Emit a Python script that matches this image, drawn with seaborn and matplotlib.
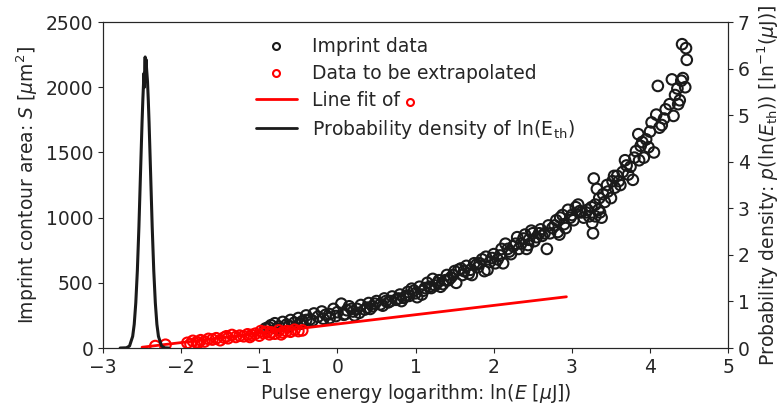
import numpy as np
import pandas as pd
import matplotlib
matplotlib.use("Agg")
import matplotlib.pyplot as plt
from matplotlib.lines import Line2D
from matplotlib.transforms import IdentityTransform
import seaborn as sns

# imprint data (black circles)
imprint_x = [-0.92, -0.85, -0.8, -0.75, -0.7, -0.65, -0.6, -0.55, -0.5, -0.45, -0.4, -0.35, -0.3, -0.25,
             -0.2, -0.15, -0.1, -0.05, 0.0, 0.05, 0.1, 0.12, 0.15, 0.2, 0.25, 0.3, 0.35, 0.4, 0.45, 0.5,
             0.55, 0.6, 0.65, 0.7, 0.75, 0.8, 0.85, 0.9, 0.92, 0.95, 1.0, 1.05, 1.1, 1.15, 1.2, 1.22, 1.25,
             1.3, 1.35, 1.4, 1.45, 1.5, 1.52, 1.55, 1.6, 1.65, 1.7, 1.75, 1.8, 1.85, 1.88, 1.9, 1.95, 2.0,
             2.05, 2.1, 2.12, 2.15, 2.2, 2.25, 2.3, 2.35, 2.4, 2.42, 2.45, 2.5, 2.55, 2.6, 2.65, 2.68, 2.7,
             2.75, 2.8, 2.82, 2.85, 2.9, 2.95, 3.0, 3.05, 3.1, 3.15, 3.2, 3.25, 3.27, 3.28, 3.3, 3.32, 3.35,
             3.38, 3.4, 3.45, 3.5, 3.52, 3.55, 3.6, 3.65, 3.68, 3.7, 3.75, 3.8, 3.82, 3.85, 3.88, 3.9, 3.92,
             3.95, 4.0, 4.02, 4.05, 4.08, 4.1, 4.15, 4.2, 4.25, 4.3, 4.32, 4.35, 4.38, 4.4, 4.42, 4.41, 4.46,
             4.47, 4.45,
             -0.88, -0.78, -0.62, -0.48, -0.32, -0.18, -0.02, 0.08, 0.18, 0.28, 0.38, 0.48, 0.58, 0.68,
             0.78, 0.88, 0.98, 1.08, 1.18, 1.28, 1.38, 1.48, 1.58, 1.68, 1.78, 1.98, 2.08, 2.18, 2.28, 2.38,
             2.48, 2.58, 2.78, 2.88, 2.98, 3.08, 3.18, 3.34, 3.42, 3.58, 3.72, 3.78, 4.12, 4.28,
             -0.4, -0.1, 0.22, 0.42, 0.62, 0.82, 1.02, 1.12, 1.32, 1.42, 1.62, 1.72, 1.82, 1.92, 2.02,
             2.22, 2.32, 2.44, 2.52, 2.62, 2.72, 2.84, 2.92, 3.02, 3.12, 3.22, 3.26, 3.3, 3.36, 3.46,
             3.54, 3.62, 3.86, 3.98, 4.18, 4.36]
imprint_y = [150, 175, 190, 165, 200, 180, 215, 195, 230, 205, 250, 220, 265, 240,
             280, 255, 230, 300, 275, 340, 260, 290, 320, 280, 300, 330, 295, 345, 320, 360,
             335, 380, 350, 395, 370, 410, 385, 430, 400, 455, 420, 470, 440, 500, 460, 530, 480,
             520, 490, 560, 540, 590, 500, 600, 560, 630, 600, 650, 620, 680, 590, 700, 660, 720,
             680, 760, 650, 800, 740, 780, 850, 800, 870, 760, 830, 880, 850, 910, 880, 760, 940,
             920, 980, 890, 1000, 950, 1060, 1020, 1080, 1050, 1000, 1060, 1080, 880, 1300, 1010, 1220, 1150,
             1000, 1180, 1250, 1150, 1280, 1230, 1280, 1350, 1440, 1400, 1390, 1460, 1510, 1640, 1550, 1580, 1460,
             1600, 1660, 1730, 1500, 1790, 2010, 1710, 1830, 1870, 1780, 1940, 1990, 1900, 2050, 2070, 2330, 2300,
             2210, 2000,
             160, 150, 170, 185, 210, 225, 245, 255, 300, 270, 310, 340, 325, 360,
             380, 400, 440, 410, 470, 500, 520, 560, 610, 570, 640, 690, 710, 760, 800, 840,
             900, 880, 940, 1020, 1000, 1100, 1040, 1060, 1120, 1320, 1330, 1290, 1690, 2060,
             215, 260, 250, 300, 360, 360, 390, 460, 470, 520, 590, 560, 650, 600, 650,
             720, 760, 790, 820, 860, 880, 870, 920, 980, 1040, 1010, 960, 1100, 1040, 1200,
             1320, 1250, 1440, 1540, 1760, 1870]

# data to be extrapolated (red circles)
extrap_x = [-2.33, -2.2, -1.92, -1.88, -1.85, -1.8, -1.78, -1.75, -1.7, -1.65, -1.6, -1.55, -1.5, -1.45,
            -1.42, -1.4, -1.35, -1.3, -1.25, -1.2, -1.15, -1.12, -1.1, -1.05, -1.0, -0.98, -0.95, -0.9,
            -0.87, -0.85, -0.8, -0.75, -0.72, -0.7, -0.65, -0.6, -0.55, -0.5, -0.45]
extrap_y = [15, 25, 40, 30, 55, 45, 40, 60, 50, 70, 65, 75, 60, 80,
            90, 75, 100, 85, 95, 90, 105, 85, 100, 110, 95, 130, 115, 125,
            105, 120, 110, 135, 105, 120, 130, 125, 140, 130, 135]

# line fit of the red points
fit_x = [-2.5, 2.93]
fit_y = [6, 393]

# probability density of ln(E_th), right axis
dens_x = [-2.78, -2.7, -2.66, -2.62, -2.6, -2.58, -2.56, -2.54, -2.52, -2.5, -2.49, -2.48, -2.475, -2.47,
          -2.465, -2.46, -2.455, -2.45, -2.44, -2.43, -2.42, -2.41, -2.39, -2.37, -2.35, -2.33, -2.31,
          -2.29, -2.25, -2.21, -2.16]
dens_y = [0.0, 0.005, 0.043, 0.25, 0.51, 0.97, 1.66, 2.6, 3.73, 4.84, 5.32, 5.72, 5.9, 5.6,
          6.0, 6.25, 5.9, 6.2, 5.95, 5.72, 5.32, 4.84, 3.73, 2.6, 1.66, 0.97, 0.51,
          0.25, 0.043, 0.005, 0.0]

sns.set_style("ticks")
plt.rcParams["font.family"] = ["DejaVu Sans"]
plt.rcParams["mathtext.fontset"] = "dejavusans"

txt = "#262626"
fs = 13.5

fig, ax = plt.subplots(figsize=(7.83, 4.08), dpi=100)
fig.subplots_adjust(left=0.1315, right=0.930, top=0.946, bottom=0.147)

df_imp = pd.DataFrame({"x": imprint_x, "y": imprint_y})
df_ext = pd.DataFrame({"x": extrap_x, "y": extrap_y})

sns.scatterplot(data=df_imp, x="x", y="y", ax=ax, marker="o", s=58,
                facecolors="none", edgecolor="#1a1a1a", linewidth=1.5, zorder=2)
sns.scatterplot(data=df_ext, x="x", y="y", ax=ax, marker="o", s=58,
                facecolors="none", edgecolor="red", linewidth=1.5, zorder=3)
sns.lineplot(x=fit_x, y=fit_y, ax=ax, color="red", linewidth=2, zorder=4)

ax.set_xlim(-3, 5)
ax.set_ylim(0, 2500)
ax.set_xticks(range(-3, 6))
ax.set_yticks(range(0, 2501, 500))
ax.set_xlabel("Pulse energy logarithm: ln($E$ [$\\mu$J])", fontsize=fs, color=txt)
ax.set_ylabel("Imprint contour area: $S$ [$\\mu$m$^2$]", fontsize=fs, color=txt)
ax.tick_params(labelsize=fs, colors=txt)

ax2 = ax.twinx()
sns.lineplot(x=dens_x, y=dens_y, ax=ax2, color="#1a1a1a", linewidth=2.2, sort=False)
ax2.set_ylim(0, 7)
ax2.set_yticks(range(0, 8))
ax2.set_ylabel("Probability density: $p$(ln($E_{\\rm th}$)) [ln$^{-1}$($\\mu$J)]",
               fontsize=fs, color=txt)
ax2.tick_params(labelsize=fs, colors=txt)
for a in (ax, ax2):
    for sp in a.spines.values():
        sp.set_visible(True)
        sp.set_color(txt)

handles = [
    Line2D([], [], ls="none", marker="o", mfc="none", mec="#1a1a1a", mew=1.5, ms=5),
    Line2D([], [], ls="none", marker="o", mfc="none", mec="red", mew=1.5, ms=5),
    Line2D([], [], color="red", lw=2),
    Line2D([], [], color="#1a1a1a", lw=2),
]
labels = ["Imprint data", "Data to be extrapolated", "Line fit of",
          "Probability density of ln(E$_{\\rm th}$)"]
leg = ax2.legend(handles, labels, loc="upper left", bbox_to_anchor=(0.217, 1.005),
                 frameon=False, fontsize=fs, handlelength=2.2, labelspacing=0.42)
for t in leg.get_texts():
    t.set_color(txt)

# small red circle after "Line fit of"
fig.canvas.draw()
bb = leg.get_texts()[2].get_window_extent()
fig.add_artist(Line2D([bb.x1 + 10], [bb.y0 + bb.height * 0.42], ls="none", marker="o",
                      mfc="none", mec="red", mew=1.5, ms=5, transform=IdentityTransform()))

fig.savefig("out.png", dpi=100)
